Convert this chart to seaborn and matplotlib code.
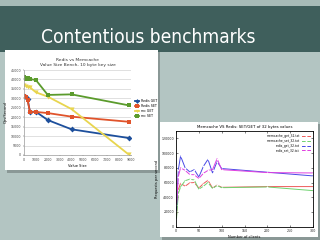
import numpy as np
import pandas as pd
import matplotlib
matplotlib.use("Agg")
import matplotlib.pyplot as plt
import seaborn as sns
from matplotlib.patches import Rectangle

# ---------------- data: left chart (Excel style) ----------------
value_size = [10, 150, 300, 500, 1000, 2000, 4000, 8800]
redis_get = [31400, 30900, 29500, 22900, 22900, 18500, 13600, 9000]
redis_set = [31000, 30500, 29200, 22800, 22800, 22200, 20300, 17600]
mc_get = [37000, 36700, 36200, 35800, 33200, 30900, 24300, 300]
mc_set = [41500, 40200, 40600, 40200, 39700, 31800, 32100, 26300]
left_series = ["Redis GET", "Redis SET", "mc GET", "mc SET"]
left_yticks = list(range(0, 45001, 5000))
left_xticks = list(range(0, 9001, 1000))

# ---------------- data: right chart (gnuplot style) ----------------
clients = [1, 5, 10, 20, 30, 40, 50, 60, 70, 80, 90, 100, 200, 300]
memcache_get = [14000, 50000, 59000, 55000, 59500, 60000, 52500, 58500, 63000, 52500, 56500, 53500, 54500, 54500]
memcache_set = [10000, 45000, 54000, 62500, 64500, 63500, 51000, 55000, 60000, 52000, 56000, 53000, 54000, 49000]
redis_get_c = [22000, 77000, 96000, 80000, 74500, 77500, 67500, 82000, 91500, 73000, 88500, 79000, 74000, 69000]
redis_set_c = [30000, 68000, 80000, 76500, 71000, 70500, 65500, 72500, 76500, 77500, 92500, 77500, 73500, 73000]
right_series = ["memcache_get_32.txt", "memcache_set_32.txt", "redis_get_32.txt", "redis_set_32.txt"]
right_yticks = list(range(0, 120001, 20000))
right_xticks = list(range(0, 301, 50))

W, H = 320, 240
fig = plt.figure(figsize=(3.2, 2.4), dpi=100)
fig.patch.set_facecolor("#b3c5c2")


def rect(x, y, w, h, color, z=-10, **kw):
    fig.add_artist(Rectangle((x / W, 1 - (y + h) / H), w / W, h / H,
                             transform=fig.transFigure, facecolor=color,
                             edgecolor="none", zorder=z, **kw))


# slide background
rect(0, 0, 320, 6, "#a7bbb7")
rect(0, 6, 320, 46, "#3f5f5c")
title = fig.text(148 / W, 1 - 43 / H, "Contentious benchmarks", color="white",
                 fontsize=14, family=["DejaVu Sans"], fontstretch="condensed",
                 ha="center", va="baseline", zorder=5)
# fit title width to ~215 px
renderer = fig.canvas.get_renderer()
tw = title.get_window_extent(renderer).width
title.set_fontsize(14 * 215.0 / tw)

# panels with shadows
rect(7, 52, 153, 121, "#8a9896", z=-9)
rect(5, 50, 153, 120, "white", z=-8)
rect(162, 124, 158, 116, "#8a9896", z=-9)
rect(160, 122, 158, 115, "white", z=-8)

# ---------------- left chart ----------------
axl = fig.add_axes([24 / W, 1 - 155 / H, 107 / W, 85 / H])
dl = pd.DataFrame({
    "size": value_size * 4,
    "ops": redis_get + redis_set + mc_get + mc_set,
    "series": sum([[s] * len(value_size) for s in left_series], []),
})
lcols = ["#1d4f9c", "#e0532b", "#e8d54e", "#5b9b2c"]
sns.lineplot(data=dl, x="size", y="ops", hue="series", style="series",
             palette=lcols, markers=["D", "s", "v", "s"], dashes=False,
             linewidth=1.3, markersize=3.0, markeredgewidth=0, ax=axl)
axl.set_xlim(0, 9000)
axl.set_ylim(0, 45000)
axl.set_xticks(left_xticks)
axl.set_yticks(left_yticks)
axl.tick_params(labelsize=2.3, length=1, width=0.3, pad=1, colors="#444444")
axl.grid(axis="y", color="#c8c8c8", linewidth=0.4)
axl.set_axisbelow(True)
for s in ["top", "right"]:
    axl.spines[s].set_visible(False)
for s in ["left", "bottom"]:
    axl.spines[s].set_color("#999999")
    axl.spines[s].set_linewidth(0.5)
axl.set_xlabel("Value Size", fontsize=2.6, labelpad=1.5)
axl.set_ylabel("Ops/Second", fontsize=2.6, labelpad=2)
axl.set_title("Redis vs Memcache\nValue Size Bench, 10 byte key size",
              fontsize=3.2, pad=3, color="#333333", linespacing=1.3)
axl.legend(loc="center left", bbox_to_anchor=(1.02, 0.55), frameon=False,
           fontsize=2.3, handlelength=1.2, markerscale=0.8, labelspacing=0.3,
           borderpad=0)

# ---------------- right chart ----------------
axr = fig.add_axes([176 / W, 1 - 226.7 / H, 137 / W, 95.7 / H])
dr = pd.DataFrame({
    "clients": clients * 4,
    "rps": memcache_get + memcache_set + redis_get_c + redis_set_c,
    "series": sum([[s] * len(clients) for s in right_series], []),
})
rcols = ["#ee5a5a", "#6fd26f", "#4a4ae6", "#e03fe0"]
sns.lineplot(data=dr, x="clients", y="rps", hue="series", palette=rcols,
             marker="+", markersize=2, markeredgewidth=0.5, linewidth=0.7, ax=axr)
axr.set_xlim(0, 300)
axr.set_ylim(0, 130000)
axr.set_xticks(right_xticks)
axr.set_yticks(right_yticks)
axr.tick_params(labelsize=2.3, length=1.5, width=0.4, pad=1.5, direction="in",
                top=True, right=True, colors="#222222")
for s in axr.spines.values():
    s.set_linewidth(0.6)
axr.set_xlabel("Number of clients", fontsize=2.6, labelpad=1.5)
axr.set_ylabel("Requests per second", fontsize=2.6, labelpad=2)
axr.set_title("Memcache VS Redis: SET/GET of 32 bytes values", fontsize=2.8, pad=2)
axr.legend(loc="upper right", frameon=False, fontsize=2.2, markerfirst=False,
           handlelength=2.5, labelspacing=0.25, borderpad=0.5)

fig.savefig("out.png", dpi=100, facecolor=fig.get_facecolor())
